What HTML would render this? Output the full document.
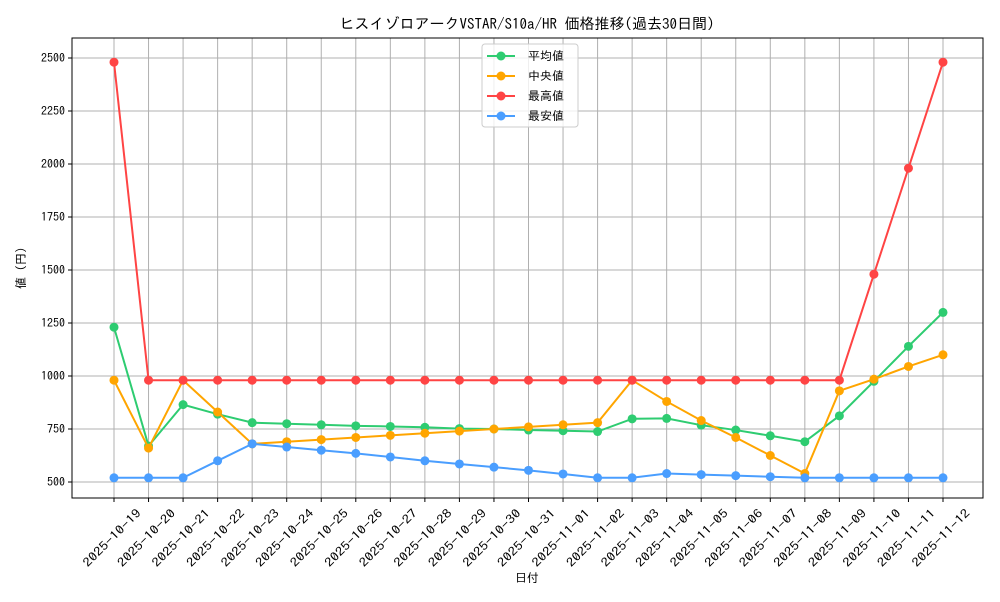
<!DOCTYPE html>
<html><head><meta charset="utf-8"><style>
body{margin:0;background:#fff;font-family:"IPAGothic","Noto Sans CJK JP",sans-serif}
text{font-family:"IPAGothic","Noto Sans CJK JP",sans-serif}
</style></head><body>
<svg id="c" width="1000" height="600" xmlns="http://www.w3.org/2000/svg"></svg>
<script>
const dates=["2025-10-19","2025-10-20","2025-10-21","2025-10-22","2025-10-23","2025-10-24","2025-10-25","2025-10-26","2025-10-27","2025-10-28","2025-10-29","2025-10-30","2025-10-31","2025-11-01","2025-11-02","2025-11-03","2025-11-04","2025-11-05","2025-11-06","2025-11-07","2025-11-08","2025-11-09","2025-11-10","2025-11-11","2025-11-12"];
const avgVals=[1230,670,865,820,780,775,770,765,762,758,752,750,745,742,738,798,800,768,745,718,690,812,975,1140,1300];
const medVals=[980,660,980,830,680,690,700,710,720,730,740,750,760,770,780,980,880,790,710,625,540,930,985,1045,1100];
const maxVals=[2480,980,980,980,980,980,980,980,980,980,980,980,980,980,980,980,980,980,980,980,980,980,1480,1980,2480];
const minVals=[520,520,520,600,680,665,650,635,618,600,585,570,555,538,520,520,540,535,530,525,520,520,520,520,520];
const yTicks=[500,750,1000,1250,1500,1750,2000,2250,2500];
const NS="http://www.w3.org/2000/svg",svg=document.getElementById('c');
const L=72,R=983,T=38,B=498;
const x=i=>114+i*(943-114)/(dates.length-1);
const y=v=>482-(v-500)*0.212;
function el(t,a,p){const e=document.createElementNS(NS,t);for(const k in a)e.setAttribute(k,a[k]);(p||svg).appendChild(e);return e;}
const grid=el('g',{});


dates.forEach((d,i)=>{
  el('line',{x1:x(i),x2:x(i),y1:T,y2:B,stroke:'#b0b0b0','stroke-width':1},grid);
  el('line',{x1:x(i),x2:x(i),y1:B,y2:B+4,stroke:'#000'});
  const t=el('text',{x:0,y:4,'font-size':12,'text-anchor':'middle',textLength:76,lengthAdjust:'spacingAndGlyphs',transform:`translate(${x(i)-2},${538}) rotate(-45)`});
  t.textContent=d;
  
  
});
yTicks.forEach(v=>{
  el('line',{x1:L,x2:R,y1:y(v),y2:y(v),stroke:'#b0b0b0','stroke-width':1},grid);
  el('line',{x1:L-4,x2:L,y1:y(v),y2:y(v),stroke:'#000'});
  const t=el('text',{x:L-7,y:y(v)+4,'font-size':12,'text-anchor':'end'});
  t.textContent=v;
  
  
});
const frame=el('rect',{x:L,y:T,width:R-L,height:B-T,fill:'none',stroke:'#000','stroke-width':1});


const series=[["平均値",avgVals,"#2ecc71","series-average"],["中央値",medVals,"#ffa500","series-median"],["最高値",maxVals,"#ff4444","series-max"],["最安値",minVals,"#4a9eff","series-min"]];
series.forEach(([n,vals,c,nm])=>{
  const g=el('g',{});
  
  
  el('polyline',{points:vals.map((v,i)=>x(i)+','+y(v)).join(' '),fill:'none',stroke:c,'stroke-width':2},g);
  vals.forEach((v,i)=>{const p=el('circle',{cx:x(i),cy:y(v),r:4.5,fill:c},g);
    
    });
});
const lg=el('g',{});


el('rect',{x:482,y:44,width:96,height:83,fill:'#fff','fill-opacity':0.8,stroke:'#ccc',rx:3},lg);
series.forEach(([n,v,c],i)=>{
  const yy=56+i*20;
  el('line',{x1:487,x2:515,y1:yy,y2:yy,stroke:c,'stroke-width':2},lg);
  el('circle',{cx:501,cy:yy,r:4.5,fill:c},lg);
  const t=el('text',{x:528,y:yy+4,'font-size':12},lg);t.textContent=n;
  
  
});
const ti=el('text',{x:527,y:29,'font-size':15,'text-anchor':'middle'});ti.textContent="ヒスイゾロアークVSTAR/S10a/HR 価格推移(過去30日間)";


const xl=el('text',{x:527,y:582,'font-size':12,'text-anchor':'middle'});xl.textContent="日付";


const yl=el('text',{x:0,y:0,'font-size':12,'text-anchor':'middle',transform:'translate(25,268) rotate(-90)'});yl.textContent="値 (円)";


</script>
</body></html>
